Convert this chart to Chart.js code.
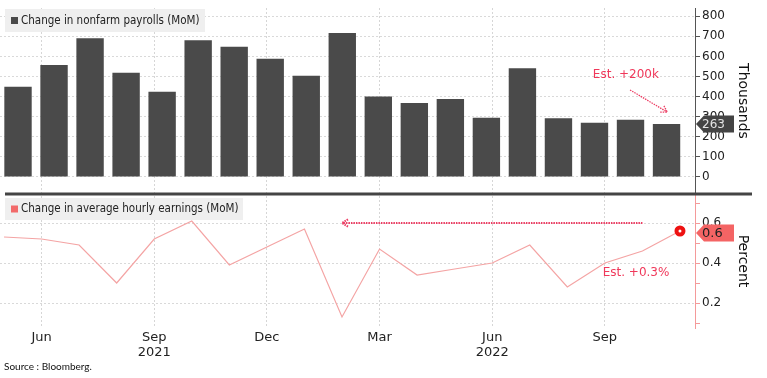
<!DOCTYPE html>
<html>
<head>
<meta charset="utf-8">
<script src="https://cdn.jsdelivr.net/npm/chart.js@4.4.1/dist/chart.umd.min.js"></script>
<style>
  html, body { margin: 0; padding: 0; background: #fff; }
  canvas { display: block; }
</style>
</head>
<body>
<canvas id="payrolls" width="767" height="378"></canvas>
<script>
// months May 2021 .. Nov 2022
const months = ['May 2021', 'Jun 2021', 'Jul 2021', 'Aug 2021', 'Sep 2021', 'Oct 2021', 'Nov 2021', 'Dec 2021',
    'Jan 2022', 'Feb 2022', 'Mar 2022', 'Apr 2022', 'May 2022', 'Jun 2022', 'Jul 2022', 'Aug 2022',
    'Sep 2022', 'Oct 2022', 'Nov 2022'];
const payrolls = [449, 557, 691, 519, 424, 680, 648, 588, 504, 716, 400, 368, 388, 295, 541, 292, 270, 285, 263];
const earnings = [0.53, 0.52, 0.49, 0.30, 0.52, 0.61, 0.39, 0.48, 0.57, 0.13, 0.47, 0.34, 0.37, 0.40, 0.49, 0.28, 0.40, 0.46, 0.56];

const payrollTicks = [0, 100, 200, 300, 400, 500, 600, 700, 800];
const earningsTicks = [0.1, 0.2, 0.3, 0.4, 0.5, 0.6, 0.7];
const earningsLabelled = [0.2, 0.4, 0.6];
const monthTicks = [1, 4, 7, 10, 13, 16];
const monthTickLabels = [['Jun'], ['Sep', '2021'], ['Dec'], ['Mar'], ['Jun', '2022'], ['Sep']];

const FONT = 'DejaVu Sans';
const NARROW = '"DejaVu Sans Condensed", "DejaVu Sans"';
const RED_TEXT = '#f0385a';

// legends, separator, estimate notes and last value flags
const notes = {
    id: 'notes',
    afterDatasetsDraw(chart) {
        const ctx = chart.ctx;
        const { x2, y, y2 } = chart.scales;
        const last = payrolls.length - 1;

        // separator between the two panels
        ctx.save();
        ctx.fillStyle = '#444';
        ctx.fillRect(5, y.bottom - 1.5, 747, 3);

        // legend boxes
        const legend = (top, h, w, colour, text) => {
            ctx.fillStyle = '#efefef';
            ctx.fillRect(5, top, w, h);
            ctx.fillStyle = colour;
            ctx.fillRect(11, top + h / 2 - 3.5, 7, 7);
            ctx.fillStyle = '#222';
            ctx.font = '11.5px ' + NARROW;
            ctx.textBaseline = 'middle';
            ctx.textAlign = 'left';
            ctx.fillText(text, 21, top + h / 2 + 0.5);
        };
        legend(9, 23, 200, '#4a4a4a', 'Change in nonfarm payrolls (MoM)');
        legend(y2.top + 4, 22, 238, '#f26a6a', 'Change in average hourly earnings (MoM)');

        // dotted arrows
        const arrow = (xa, ya, xb, yb, width) => {
            ctx.strokeStyle = '#ec3c62';
            ctx.lineWidth = width;
            ctx.setLineDash([1.5, 1]);
            ctx.beginPath();
            ctx.moveTo(xa, ya);
            ctx.lineTo(xb, yb);
            ctx.stroke();
            const ang = Math.atan2(yb - ya, xb - xa);
            ctx.beginPath();
            ctx.moveTo(xb - 7 * Math.cos(ang - 0.55), yb - 7 * Math.sin(ang - 0.55));
            ctx.lineTo(xb, yb);
            ctx.lineTo(xb - 7 * Math.cos(ang + 0.55), yb - 7 * Math.sin(ang + 0.55));
            ctx.stroke();
            ctx.setLineDash([]);
        };
        arrow(x2.getPixelForValue(16.67), y.getPixelForValue(433), x2.getPixelForValue(17.66), y.getPixelForValue(323), 1.3);
        arrow(x2.getPixelForValue(17), y2.getPixelForValue(0.6), x2.getPixelForValue(9), y2.getPixelForValue(0.6), 2);

        ctx.fillStyle = RED_TEXT;
        ctx.font = '12px ' + FONT;
        ctx.textAlign = 'center';
        ctx.fillText('Est. +200k', x2.getPixelForValue(16.56), y.getPixelForValue(507));
        ctx.fillText('Est. +0.3%', x2.getPixelForValue(16.83), y2.getPixelForValue(0.35));

        // last value flags on the axes
        const flag = (yc, fill, colour, text, size) => {
            const ax = y.left + 1;
            ctx.fillStyle = fill;
            ctx.beginPath();
            ctx.moveTo(ax, yc);
            ctx.lineTo(ax + 8, yc - 8.5);
            ctx.lineTo(ax + 38, yc - 8.5);
            ctx.lineTo(ax + 38, yc + 8.5);
            ctx.lineTo(ax + 8, yc + 8.5);
            ctx.closePath();
            ctx.fill();
            ctx.fillStyle = colour;
            ctx.font = size + 'px ' + FONT;
            ctx.textAlign = 'left';
            ctx.fillText(text, ax + 6, yc + 0.5);
        };
        flag(y.getPixelForValue(payrolls[last]), '#444', '#e4e4e4', String(payrolls[last]), 12);
        flag(y2.getPixelForValue(earnings[last]) + 2, '#f46464', '#222', earnings[last].toFixed(1), 13);

        // source
        ctx.fillStyle = '#111';
        ctx.font = '10px Lato';
        ctx.textAlign = 'left';
        ctx.fillText('Source : Bloomberg.', 4, 367);
        ctx.restore();
    }
};

const fixTicks = (list) => (scale) => { scale.ticks = list.map(v => ({ value: v })); };
const noPad = (s) => { s.paddingLeft = 0; s.paddingRight = 0; s.paddingTop = 0; s.paddingBottom = 0; };

new Chart(document.getElementById('payrolls'), {
    data: {
        datasets: [
            {
                type: 'bar',
                label: 'Change in nonfarm payrolls (MoM)',
                data: payrolls.map((v, i) => ({ x: i, y: v })),
                backgroundColor: '#4a4a4a',
                xAxisID: 'x',
                yAxisID: 'y',
                grouped: false,
                barPercentage: 1,
                categoryPercentage: 0.76
            },
            {
                type: 'line',
                label: 'Change in average hourly earnings (MoM)',
                data: earnings.map((v, i) => ({ x: i, y: v })),
                borderColor: '#f4a4a4',
                borderWidth: 1.2,
                tension: 0,
                pointRadius: (c) => c.dataIndex === earnings.length - 1 ? 3.5 : 0,
                pointBorderWidth: 4,
                pointBorderColor: '#ee1111',
                pointBackgroundColor: '#ffffff',
                xAxisID: 'x2',
                yAxisID: 'y2'
            }
        ]
    },
    options: {
        responsive: false,
        animation: false,
        layout: { autoPadding: false, padding: { top: 8, left: 0, right: 0, bottom: 0 } },
        plugins: { legend: { display: false }, tooltip: { enabled: false } },
        scales: {
            x: {
                type: 'linear',
                offset: false,
                min: -0.5,
                max: 18.79,
                afterBuildTicks: fixTicks(months.map((m, i) => i)),
                display: false
            },
            x2: {
                type: 'linear',
                position: 'bottom',
                offset: false,
                min: -0.107,
                max: 18.4,
                afterBuildTicks: fixTicks(monthTicks),
                afterFit: (s) => { s.height = 50; noPad(s); },
                grid: { color: '#d6d6d6', drawTicks: false },
                border: { display: false, dash: [2, 2] },
                ticks: {
                    padding: 2,
                    maxRotation: 0,
                    autoSkip: false,
                    color: '#222',
                    font: { family: FONT, size: 13, lineHeight: 1.15 },
                    callback: (v) => monthTickLabels[monthTicks.indexOf(v)]
                }
            },
            y: {
                type: 'linear',
                position: 'right',
                stack: 'panels',
                stackWeight: 186,
                min: -85,
                max: 841,
                afterBuildTicks: fixTicks(payrollTicks),
                afterFit: (s) => { s.width = 72; noPad(s); },
                grid: { color: '#d9d9d9', tickColor: '#555', tickLength: 5 },
                border: { color: '#555', width: 1, dash: [2, 2] },
                ticks: { padding: 2, autoSkip: false, color: '#222', font: { family: FONT, size: 12 } },
                title: {
                    display: true, text: 'Thousands', color: '#111',
                    font: { family: FONT, size: 14 }, padding: { top: 16 }
                }
            },
            y2: {
                type: 'linear',
                position: 'right',
                stack: 'panels',
                stackWeight: 134,
                min: 0.075,
                max: 0.745,
                afterBuildTicks: fixTicks(earningsTicks),
                afterFit: (s) => { s.width = 72; noPad(s); },
                grid: {
                    color: (c) => earningsLabelled.includes(c.tick && c.tick.value) ? '#d9d9d9' : 'rgba(0,0,0,0)',
                    tickColor: '#f49a9a',
                    tickLength: 5
                },
                border: { color: '#f49a9a', width: 1, dash: [2, 2] },
                ticks: {
                    padding: 2, autoSkip: false, color: '#222', font: { family: FONT, size: 12 },
                    callback: (v) => earningsLabelled.includes(v) ? v.toFixed(1) : ''
                },
                title: {
                    display: true, text: 'Percent', color: '#111',
                    font: { family: FONT, size: 14 }, padding: { top: 16 }
                }
            }
        }
    },
    plugins: [notes]
});
</script>
</body>
</html>
